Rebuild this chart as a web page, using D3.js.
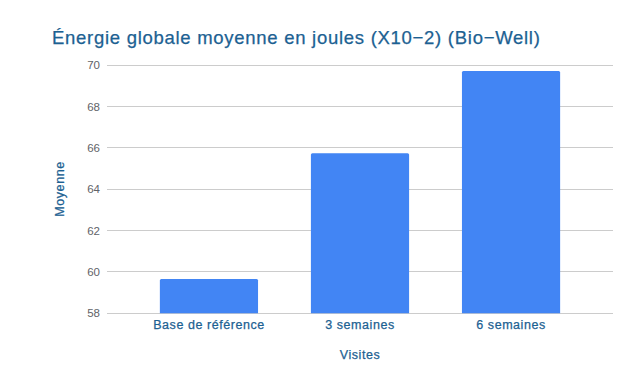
<!DOCTYPE html>
<html><head><meta charset="utf-8">
<script src="https://cdn.jsdelivr.net/npm/d3@7"></script>
<style>body{margin:0;background:#fff}svg{display:block}text{font-family:"Liberation Sans",Arial,sans-serif}.t{stroke:#1c6192;stroke-width:0.25px}</style>
</head><body><svg id="c" width="641" height="377"></svg>
<script>
const categories = ["Base de référence", "3 semaines", "6 semaines"];
const values = [59.66, 65.75, 69.72];
const yTicks = [58, 60, 62, 64, 66, 68, 70];
const title = "Énergie globale moyenne en joules (X10−2) (Bio−Well)";
const xTitle = "Visites", yTitle = "Moyenne";

const svg = d3.select("#c");
const x = d3.scaleBand().domain(categories).range([107, 613]).paddingInner(0.35).paddingOuter(0.35);
const y = d3.scaleLinear().domain([58, 70]).range([313.3, 65.3]);

svg.append("g").selectAll("line").data(yTicks).join("line")
  .attr("x1", 107).attr("x2", 613).attr("y1", d => y(d)).attr("y2", d => y(d))
  .attr("stroke", "#cccccc").attr("stroke-width", 1).attr("shape-rendering", "crispEdges");

svg.append("g").selectAll("text").data(yTicks).join("text")
  .attr("x", 100).attr("y", d => y(d) + 4).attr("text-anchor", "end")
  .attr("font-size", 11.5).attr("fill", "#5f6368").text(d => d);

svg.append("g").selectAll("path").data(values).join("path")
  .attr("fill", "#4285f4")
  .attr("d", (d, i) => {
    const x0 = x(categories[i]), w = x.bandwidth(), y0 = y(d), y1 = y(58), r = 1.5;
    return `M${x0},${y1}V${y0 + r}Q${x0},${y0} ${x0 + r},${y0}H${x0 + w - r}Q${x0 + w},${y0} ${x0 + w},${y0 + r}V${y1}Z`;
  });

svg.append("g").selectAll("text").data(categories).join("text").attr("class", "t")
  .attr("x", d => x(d) + x.bandwidth() / 2).attr("y", 329).attr("text-anchor", "middle")
  .attr("font-size", 12.5).attr("letter-spacing", 0.55).attr("fill", "#1c6192").text(d => d);

svg.append("text").attr("class", "t").attr("x", 52).attr("y", 44).attr("font-size", 18.5)
  .attr("letter-spacing", 0.72).attr("fill", "#1c6192").text(title);
svg.append("text").attr("class", "t").attr("x", 360).attr("y", 359).attr("text-anchor", "middle")
  .attr("font-size", 12.5).attr("letter-spacing", 0.55).attr("fill", "#1c6192").text(xTitle);
svg.append("text").attr("class", "t").attr("transform", "translate(64,189) rotate(-90)").attr("text-anchor", "middle")
  .attr("font-size", 12.5).attr("letter-spacing", 0.55).attr("fill", "#1c6192").text(yTitle);
</script></body></html>
